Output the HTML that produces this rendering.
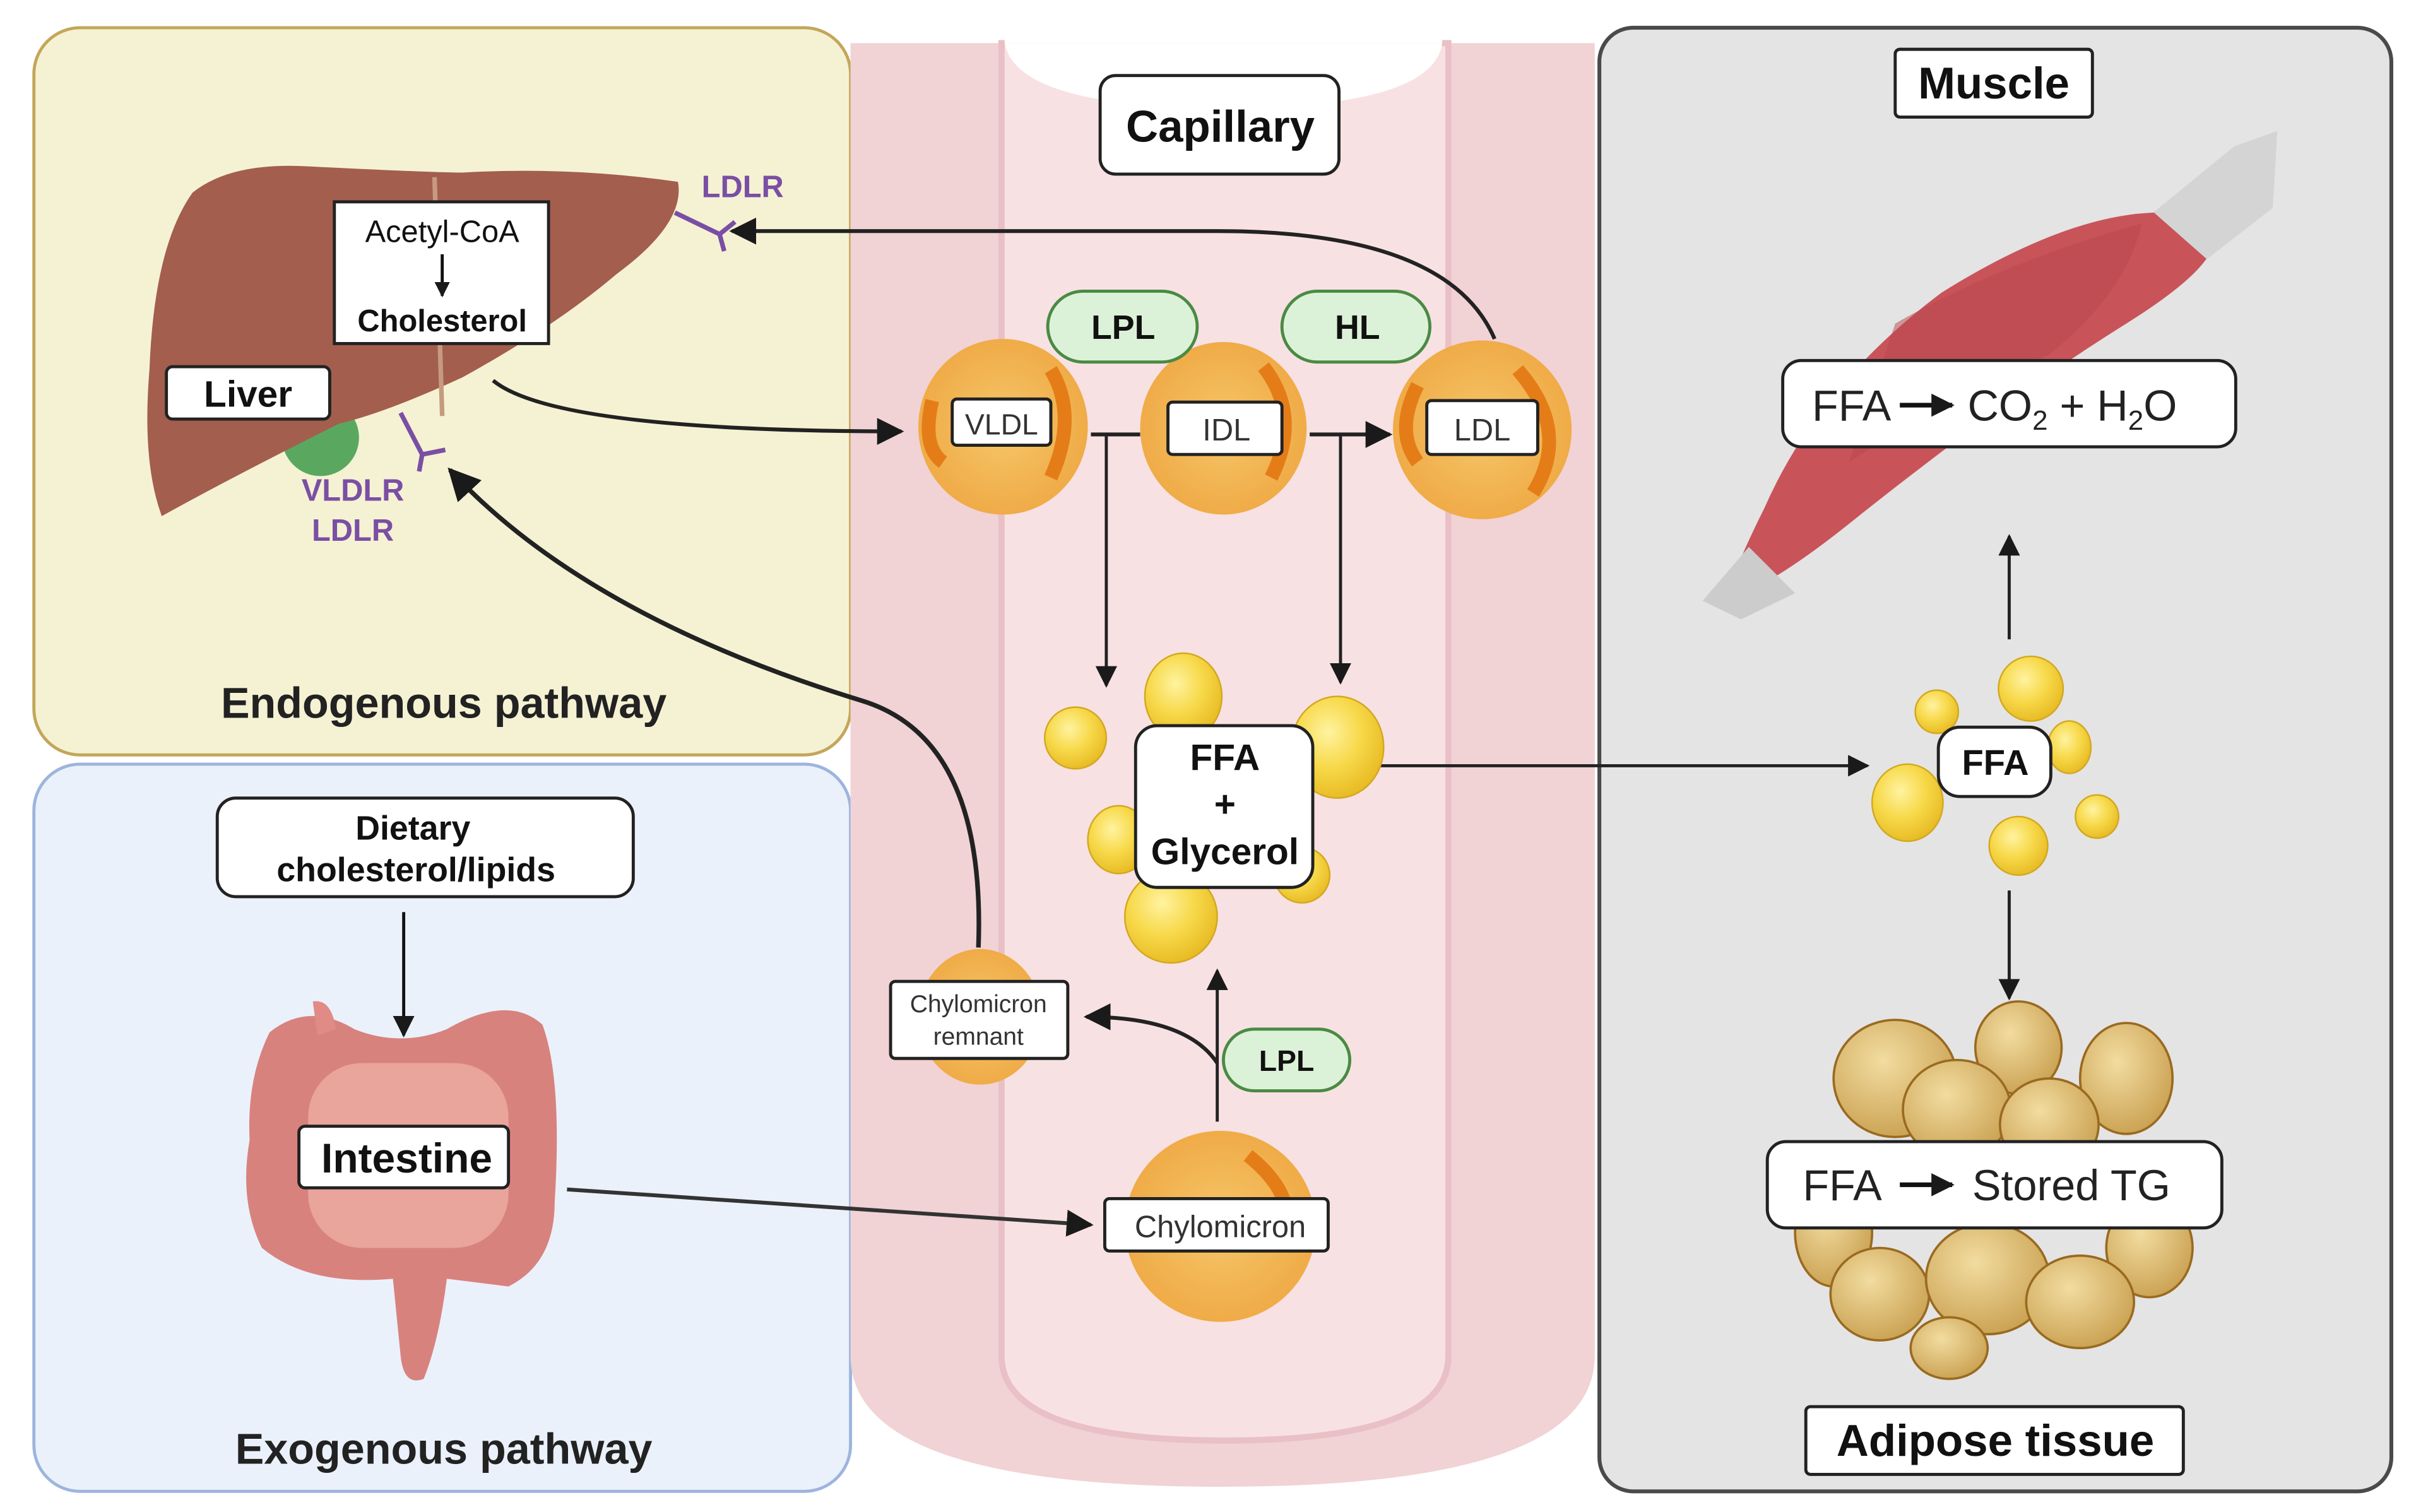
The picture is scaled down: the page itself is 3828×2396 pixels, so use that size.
<!DOCTYPE html>
<html><head><meta charset="utf-8"><style>
html,body{margin:0;padding:0;background:#fff}
svg{display:block}
text{font-family:"Liberation Sans",sans-serif;fill:#111}
</style></head><body>
<svg width="3828" height="2396" viewBox="0 0 1568 981.4" preserveAspectRatio="none" xmlns="http://www.w3.org/2000/svg">
<defs>
<marker id="ah" viewBox="0 0 10 10" refX="9" refY="5" markerWidth="5" markerHeight="5" orient="auto"><path d="M0,0L10,5L0,10z" fill="#1a1a1a"/></marker>
<marker id="ahb" viewBox="0 0 10 10" refX="9" refY="5" markerWidth="7" markerHeight="7" orient="auto"><path d="M0,0L10,5L0,10z" fill="#1a1a1a"/></marker>
<radialGradient id="yel" cx="0.4" cy="0.35" r="0.7"><stop offset="0" stop-color="#fff3a0"/><stop offset="0.5" stop-color="#f7d94a"/><stop offset="1" stop-color="#e6b820"/></radialGradient>
<radialGradient id="lip" cx="0.5" cy="0.5" r="0.6"><stop offset="0" stop-color="#f6c66a"/><stop offset="1" stop-color="#eea640"/></radialGradient>
<radialGradient id="fat" cx="0.4" cy="0.35" r="0.7"><stop offset="0" stop-color="#f2dca0"/><stop offset="1" stop-color="#c9a050"/></radialGradient>
</defs>
<rect width="1568" height="982" fill="#fff"/>
<rect x="22" y="18" width="530" height="472" rx="30" fill="#f5f2d4" stroke="#c4a65a" stroke-width="2"/>
<rect x="22" y="496" width="530" height="472" rx="30" fill="#ebf1fb" stroke="#9db5dd" stroke-width="2"/>
<rect x="1038" y="18" width="514" height="950" rx="22" fill="#e4e4e4" stroke="#4a4a4a" stroke-width="2.5"/>
<path d="M552,28 H1035 V880 Q1035,965 793,965 Q552,965 552,880 Z" fill="#f1d2d5"/>
<path d="M650,28 H940 V880 Q940,935 795,935 Q650,935 650,880 Z" fill="#f8e1e3" stroke="#e8c0c5" stroke-width="4"/>
<path d="M652,28 Q660,70 795,70 Q930,70 936,28 Z" fill="#fff"/>
<rect x="652" y="0" width="284" height="28" fill="#fff"/>
<rect x="714" y="49" width="155" height="64" rx="10" fill="#fff" stroke="#222" stroke-width="2"/>
<text x="792" y="92" font-size="29" font-weight="bold" text-anchor="middle">Capillary</text>
<!-- liver -->
<circle cx="208" cy="284" r="25" fill="#5aa860"/>
<path d="M125,125 Q150,105 200,108 Q280,112 300,112 Q370,108 440,118 Q445,145 400,178 Q360,212 300,245 Q250,268 220,275 Q150,310 105,335 Q92,300 97,240 Q100,160 125,125Z" fill="#a35e4e"/>
<path d="M282,115 L287,270" stroke="#c79a80" stroke-width="3" fill="none"/>
<rect x="217" y="131" width="139" height="92" fill="#fff" stroke="#222" stroke-width="2"/>
<text x="287" y="157" font-size="20" text-anchor="middle">Acetyl-CoA</text>
<line x1="287" y1="165" x2="287" y2="192" stroke="#111" stroke-width="2" marker-end="url(#ah)"/>
<text x="287" y="215" font-size="20" font-weight="bold" text-anchor="middle">Cholesterol</text>
<rect x="108" y="238" width="106" height="34" rx="4" fill="#fff" stroke="#222" stroke-width="2"/>
<text x="161" y="264" font-size="24" font-weight="bold" text-anchor="middle">Liver</text>
<path d="M438,138 L467,152 M467,152 L477,144 M467,152 L470,163" stroke="#7a4fa3" stroke-width="3" fill="none"/>
<path d="M260,268 L274,295 M274,295 L289,292 M274,295 L272,306" stroke="#7a4fa3" stroke-width="3" fill="none"/>
<text x="482" y="128" font-size="20" font-weight="bold" style="fill:#7a4fa3" text-anchor="middle">LDLR</text>
<text x="229" y="325" font-size="20" font-weight="bold" style="fill:#7a4fa3" text-anchor="middle">VLDLR</text>
<text x="229" y="351" font-size="20" font-weight="bold" style="fill:#7a4fa3" text-anchor="middle">LDLR</text>
<text x="288" y="466" font-size="28" font-weight="bold" text-anchor="middle" style="fill:#222">Endogenous pathway</text>
<text x="288" y="950" font-size="28" font-weight="bold" text-anchor="middle" style="fill:#222">Exogenous pathway</text>
<rect x="141" y="518" width="270" height="64" rx="12" fill="#fff" stroke="#222" stroke-width="2"/>
<text x="268" y="545" font-size="22" font-weight="bold" text-anchor="middle">Dietary</text>
<text x="270" y="572" font-size="22" font-weight="bold" text-anchor="middle">cholesterol/lipids</text>
<!-- intestine -->
<path d="M175,670 Q200,650 230,668 Q260,680 290,668 Q330,645 352,665 Q365,700 360,780 Q360,820 330,835 L290,830 Q285,870 275,895 Q262,900 260,880 L255,830 Q200,835 170,810 Q155,780 162,740 Q160,700 175,670 Z" fill="#d8827e"/>
<path d="M203,650 Q215,648 218,668 L206,672 Z" fill="#e08b86"/>
<rect x="200" y="690" width="130" height="120" rx="35" fill="#e9a49b"/>
<line x1="262" y1="592" x2="262" y2="672" stroke="#111" stroke-width="2" marker-end="url(#ahb)"/>
<rect x="194" y="731" width="136" height="40" rx="4" fill="#fff" stroke="#222" stroke-width="2"/>
<text x="264" y="761" font-size="27" font-weight="bold" text-anchor="middle">Intestine</text>
<!-- main arrows -->
<path d="M320,247 Q360,280 585,280" stroke="#222" stroke-width="2.5" fill="none" marker-end="url(#ahb)"/>
<path d="M970,220 Q940,150 790,150 L475,150" stroke="#222" stroke-width="2.5" fill="none" marker-end="url(#ahb)"/>
<path d="M635,615 Q640,480 560,455 Q380,400 292,305" stroke="#222" stroke-width="3" fill="none" marker-end="url(#ahb)"/>
<path d="M368,772 L708,795" stroke="#333" stroke-width="2.5" fill="none" marker-end="url(#ahb)"/>
<path d="M708,282 H740" stroke="#222" stroke-width="2.5" fill="none"/>
<line x1="850" y1="282" x2="902" y2="282" stroke="#222" stroke-width="2.5" marker-end="url(#ahb)"/>
<line x1="718" y1="282" x2="718" y2="445" stroke="#222" stroke-width="2" marker-end="url(#ahb)"/>
<line x1="870" y1="282" x2="870" y2="443" stroke="#222" stroke-width="2" marker-end="url(#ahb)"/>
<line x1="853" y1="497" x2="1212" y2="497" stroke="#222" stroke-width="2" marker-end="url(#ahb)"/>
<line x1="1304" y1="415" x2="1304" y2="348" stroke="#222" stroke-width="2" marker-end="url(#ahb)"/>
<line x1="1304" y1="578" x2="1304" y2="648" stroke="#222" stroke-width="2" marker-end="url(#ahb)"/>
<line x1="790" y1="728" x2="790" y2="630" stroke="#222" stroke-width="2" marker-end="url(#ahb)"/>
<path d="M790,690 Q770,660 705,660" stroke="#222" stroke-width="2.5" fill="none" marker-end="url(#ahb)"/>
<!-- lipoproteins -->
<g>
<ellipse cx="651" cy="277" rx="55" ry="57" fill="url(#lip)"/><path d="M605,260 Q598,290 612,300" stroke="#e47d18" stroke-width="9" fill="none"/><path d="M682,240 Q700,270 682,310" stroke="#e47d18" stroke-width="9" fill="none"/>
<ellipse cx="794" cy="278" rx="54" ry="56" fill="url(#lip)"/><path d="M820,238 Q845,270 825,310" stroke="#e47d18" stroke-width="9" fill="none"/>
<ellipse cx="962" cy="279" rx="58" ry="58" fill="url(#lip)"/><path d="M920,250 Q905,280 920,300" stroke="#e47d18" stroke-width="9" fill="none"/><path d="M985,240 Q1020,280 995,320" stroke="#e47d18" stroke-width="9" fill="none"/>
<ellipse cx="636" cy="660" rx="40" ry="44" fill="url(#lip)"/>
<ellipse cx="792" cy="796" rx="62" ry="62" fill="url(#lip)"/><path d="M810,750 Q835,770 835,790" stroke="#e47d18" stroke-width="9" fill="none"/>
</g>
<rect x="618" y="259" width="64" height="30" rx="3" fill="#fff" stroke="#222" stroke-width="2"/><text x="650" y="282" font-size="19" text-anchor="middle" style="fill:#333">VLDL</text>
<rect x="758" y="261" width="74" height="34" rx="3" fill="#fff" stroke="#222" stroke-width="2"/><text x="796" y="286" font-size="20" text-anchor="middle" style="fill:#333">IDL</text>
<rect x="926" y="260" width="72" height="35" rx="3" fill="#fff" stroke="#222" stroke-width="2"/><text x="962" y="286" font-size="20" text-anchor="middle" style="fill:#333">LDL</text>
<rect x="578" y="637" width="115" height="50" rx="3" fill="#fff" stroke="#222" stroke-width="2"/>
<text x="635" y="657" font-size="16" text-anchor="middle" style="fill:#333">Chylomicron</text><text x="635" y="678" font-size="16" text-anchor="middle" style="fill:#333">remnant</text>
<rect x="717" y="778" width="145" height="34" rx="3" fill="#fff" stroke="#222" stroke-width="2"/><text x="792" y="803" font-size="20" text-anchor="middle" style="fill:#333">Chylomicron</text>
<rect x="680" y="189" width="97" height="46" rx="23" fill="#dcf2d8" stroke="#4a8a44" stroke-width="2"/><text x="729" y="220" font-size="22" font-weight="bold" text-anchor="middle">LPL</text>
<rect x="832" y="189" width="96" height="46" rx="23" fill="#dcf2d8" stroke="#4a8a44" stroke-width="2"/><text x="881" y="220" font-size="22" font-weight="bold" text-anchor="middle">HL</text>
<rect x="794" y="668" width="82" height="40" rx="20" fill="#dcf2d8" stroke="#4a8a44" stroke-width="2"/><text x="835" y="695" font-size="19" font-weight="bold" text-anchor="middle">LPL</text>
<g fill="url(#yel)" stroke="#d2a820" stroke-width="1">
<ellipse cx="768" cy="452" rx="25" ry="28"/><ellipse cx="698" cy="479" rx="20" ry="20"/><ellipse cx="868" cy="485" rx="30" ry="33"/>
<ellipse cx="726" cy="545" rx="20" ry="22"/><ellipse cx="760" cy="595" rx="30" ry="30"/><ellipse cx="845" cy="568" rx="18" ry="18"/>
</g>
<rect x="737" y="471" width="115" height="105" rx="14" fill="#fff" stroke="#222" stroke-width="2"/>
<text x="795" y="500" font-size="24" font-weight="bold" text-anchor="middle">FFA</text>
<text x="795" y="530" font-size="24" font-weight="bold" text-anchor="middle">+</text>
<text x="795" y="561" font-size="24" font-weight="bold" text-anchor="middle">Glycerol</text>
<!-- muscle -->
<rect x="1230" y="32" width="128" height="44" rx="3" fill="#fff" stroke="#222" stroke-width="2"/>
<text x="1294" y="64" font-size="29" font-weight="bold" text-anchor="middle">Muscle</text>
<path d="M1395,140 L1450,95 L1478,85 L1475,135 L1430,170 Z" fill="#d4d4d4"/>
<path d="M1398,138 Q1340,140 1260,190 Q1180,250 1145,330 Q1125,370 1120,390 Q1150,380 1200,340 Q1300,260 1380,210 Q1420,185 1432,168 Z" fill="#c8545a"/>
<path d="M1230,210 Q1300,170 1390,145 Q1380,190 1330,230 Q1260,260 1200,300 Z" fill="#b8464d" opacity="0.5"/>
<path d="M1135,355 L1105,390 L1130,402 L1165,385 Z" fill="#ccc"/>
<rect x="1157" y="234" width="294" height="56" rx="12" fill="#fff" stroke="#222" stroke-width="2"/>
<text x="1176" y="273" font-size="28" style="fill:#222">FFA</text>
<line x1="1233" y1="263" x2="1267" y2="263" stroke="#111" stroke-width="3" marker-end="url(#ah)"/>
<text x="1277" y="273" font-size="28" style="fill:#222">CO<tspan font-size="18" dy="6">2</tspan><tspan dy="-6">  +  H</tspan><tspan font-size="18" dy="6">2</tspan><tspan dy="-6">O</tspan></text>
<g fill="url(#yel)" stroke="#d2a820" stroke-width="1">
<ellipse cx="1318" cy="447" rx="21" ry="21"/><ellipse cx="1257" cy="462" rx="14" ry="14"/><ellipse cx="1343" cy="485" rx="14" ry="17"/>
<ellipse cx="1238" cy="521" rx="23" ry="25"/><ellipse cx="1310" cy="549" rx="19" ry="19"/><ellipse cx="1361" cy="530" rx="14" ry="14"/>
</g>
<rect x="1258" y="472" width="73" height="45" rx="14" fill="#fff" stroke="#222" stroke-width="2"/>
<text x="1295" y="503" font-size="23" font-weight="bold" text-anchor="middle">FFA</text>
<g fill="url(#fat)" stroke="#9a6a20" stroke-width="1.5">
<ellipse cx="1310" cy="680" rx="28" ry="30"/><ellipse cx="1230" cy="700" rx="40" ry="38"/><ellipse cx="1380" cy="700" rx="30" ry="36"/>
<ellipse cx="1270" cy="720" rx="35" ry="32"/><ellipse cx="1330" cy="730" rx="32" ry="30"/><ellipse cx="1190" cy="800" rx="25" ry="35"/>
<ellipse cx="1395" cy="810" rx="28" ry="32"/><ellipse cx="1220" cy="840" rx="32" ry="30"/><ellipse cx="1290" cy="830" rx="40" ry="36"/>
<ellipse cx="1350" cy="845" rx="35" ry="30"/><ellipse cx="1265" cy="875" rx="25" ry="20"/>
</g>
<rect x="1147" y="741" width="295" height="56" rx="12" fill="#fff" stroke="#222" stroke-width="2"/>
<text x="1170" y="779" font-size="28" style="fill:#222">FFA</text>
<line x1="1233" y1="769" x2="1267" y2="769" stroke="#111" stroke-width="3" marker-end="url(#ah)"/>
<text x="1280" y="779" font-size="28" style="fill:#222">Stored TG</text>
<rect x="1172" y="913" width="245" height="44" rx="3" fill="#fff" stroke="#222" stroke-width="2"/>
<text x="1295" y="945" font-size="29" font-weight="bold" text-anchor="middle">Adipose tissue</text>
</svg>
</body></html>
